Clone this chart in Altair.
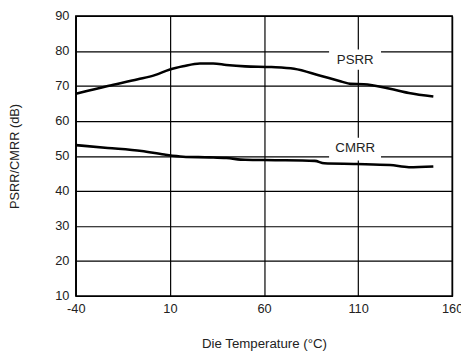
import altair as alt
import pandas as pd

# PSRR curve
psrr_temp = [-40, -23, -7, 2, 10, 17, 26, 33, 40, 50, 64, 76, 90, 101, 106, 113, 127, 137, 150]
psrr_db = [67.8, 70.0, 71.9, 73.1, 74.7, 75.6, 76.4, 76.4, 76.0, 75.6, 75.4, 74.9, 72.9, 71.3, 70.6, 70.5, 69.2, 68.0, 67.0]

# CMRR curve
cmrr_temp = [-40, -23, -5, 7, 17, 31, 40, 50, 66, 87, 92, 109, 127, 137, 150]
cmrr_db = [53.1, 52.3, 51.4, 50.4, 49.8, 49.6, 49.4, 48.9, 48.8, 48.6, 47.9, 47.7, 47.4, 46.8, 47.0]

# In-plot labels with white boxes
label_text = ["PSRR", "CMRR"]
label_x = [108.5, 108.5]
label_y = [77.3, 52.3]
box_x1 = [94.6, 94.6]
box_x2 = [122.2, 122.2]
box_y1 = [80.4, 55.2]
box_y2 = [74.6, 48.7]

x_ticks = [-40, 10, 60, 110, 160]
y_ticks = [10, 20, 30, 40, 50, 60, 70, 80, 90]

FONT = "Liberation Sans"

df = pd.concat([
    pd.DataFrame({"t": psrr_temp, "v": psrr_db, "s": "PSRR"}),
    pd.DataFrame({"t": cmrr_temp, "v": cmrr_db, "s": "CMRR"}),
])
lab = pd.DataFrame({"text": label_text, "t": label_x, "v": label_y,
                    "t1": box_x1, "t2": box_x2, "v1": box_y1, "v2": box_y2})

xs = alt.Scale(domain=[-40, 160], nice=False, zero=False)
ys = alt.Scale(domain=[10, 90], nice=False, zero=False)

xaxis = alt.Axis(values=x_ticks, title="Die Temperature (°C)", grid=True,
                 ticks=False, labelPadding=7, titlePadding=21, titleFontSize=13.5,
                 labelExpr="'' + datum.value", labelOverlap=False)
yaxis = alt.Axis(values=y_ticks, title="PSRR/CMRR (dB)", grid=True,
                 ticks=False, labelPadding=7, titlePadding=34,
                 labelExpr="'' + datum.value", labelOverlap=False)

lines = alt.Chart(df).mark_line(color="black", strokeWidth=2.6, interpolate="monotone").encode(
    x=alt.X("t:Q", scale=xs, axis=xaxis),
    y=alt.Y("v:Q", scale=ys, axis=yaxis),
    detail="s:N",
)

boxes = alt.Chart(lab).mark_rect(color="white").encode(
    x=alt.X("t1:Q", scale=xs, axis=xaxis), x2="t2:Q",
    y=alt.Y("v1:Q", scale=ys, axis=yaxis), y2="v2:Q",
)

texts = alt.Chart(lab).mark_text(font=FONT, fontSize=13.5, color="#222").encode(
    x=alt.X("t:Q", scale=xs, axis=xaxis), y=alt.Y("v:Q", scale=ys, axis=yaxis), text="text:N",
)

chart = alt.layer(lines, boxes, texts).properties(
    width=383, height=285,
    autosize=alt.AutoSizeParams(type="none"),
    padding={"left": 69, "top": 5, "right": 9, "bottom": 59},
).configure_view(stroke="black", strokeWidth=1.5).configure_axis(
    domainColor="black", gridColor="black", gridOpacity=1, gridWidth=1.2,
    labelFont=FONT, titleFont=FONT, labelFontSize=13, titleFontSize=13,
    labelColor="#222", titleColor="#222", titleFontWeight="normal",
).configure_axisX(labelFlush=False)

chart.save("out.html", embed_options={"renderer": "svg", "actions": False})
